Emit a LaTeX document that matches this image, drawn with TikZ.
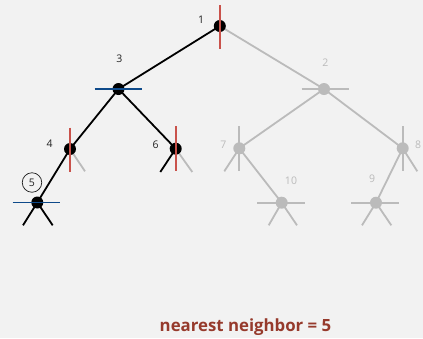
\documentclass[tikz,border=0pt]{standalone}
\usepackage{fontspec}
\setmainfont{Open Sans}
\definecolor{bgc}{HTML}{F2F2F2}
\definecolor{greyc}{HTML}{BBBBBB}
\definecolor{redc}{HTML}{C9524B}
\definecolor{bluec}{HTML}{0E4A8A}
\definecolor{txtred}{HTML}{963A2C}
\definecolor{lblc}{HTML}{222222}
\begin{document}
\begin{tikzpicture}[x=1pt,y=-1pt,
  bg/.style={fill=bgc},
  edgeb/.style={draw=black,line width=1.8pt},
  edgeg/.style={draw=greyc,line width=1.8pt},
  dotb/.style={circle,fill=black,inner sep=0pt,minimum size=12pt},
  dotg/.style={circle,fill=greyc,inner sep=0pt,minimum size=12pt},
  splitr/.style={draw=redc,line width=1.8pt},
  splitb/.style={draw=bluec,line width=1.8pt},
  splitg/.style={draw=greyc,line width=1.8pt},
  lbl/.style={font=\fontsize{10.5}{12}\selectfont,inner sep=0pt,text=lblc},
  lblg/.style={lbl,text=greyc},
]
\useasboundingbox[bg] (0,0) rectangle (423,338);

% coordinates
\coordinate (n1) at (219.8,26);
\coordinate (n2) at (324,89);
\coordinate (n3) at (118.5,89);
\coordinate (n4) at (70,149);
\coordinate (n5) at (37.3,202.5);
\coordinate (n6) at (175.7,148.7);
\coordinate (n7) at (239.3,148.3);
\coordinate (n8) at (402.7,148.3);
\coordinate (n9) at (376,202.7);
\coordinate (n10) at (281.7,202.7);

% stub ends
\coordinate (s4r) at (85,171.3);
\coordinate (s6l) at (160.3,172);
\coordinate (s6r) at (192.3,172);
\coordinate (s5l) at (23,225.3);
\coordinate (s5r) at (52.7,225.3);
\coordinate (s7l) at (224.3,171.3);
\coordinate (s8r) at (417.3,171.3);
\coordinate (s10l) at (268.7,225.3);
\coordinate (s10r) at (297,225.3);
\coordinate (s9l) at (362,225.3);
\coordinate (s9r) at (391.3,225.3);

% split line ends for node 1
\coordinate (a1) at (219.8,5);
\coordinate (b1) at (219.8,49);

% grey parts
\draw[edgeg] (n1) -- (n2);
\draw[edgeg] (n2) -- (n7);
\draw[edgeg] (n2) -- (n8);
\draw[edgeg] (n7) -- (n10);
\draw[edgeg] (n8) -- (n9);
\draw[edgeg] (n7) -- (s7l);
\draw[edgeg] (n8) -- (s8r);
\draw[edgeg] (n10) -- (s10l);
\draw[edgeg] (n10) -- (s10r);
\draw[edgeg] (n9) -- (s9l);
\draw[edgeg] (n9) -- (s9r);
\draw[edgeg] (n4) -- (s4r);
\draw[edgeg] (n6) -- (s6r);
\draw[splitg] (n2) ++(-22.5,0) coordinate (a2) -- ++(47,0) coordinate (b2);
\draw[splitg] (n7) ++(0,-22.3) coordinate (a7) -- ++(0,44.6) coordinate (b7);
\draw[splitg] (n8) ++(0,-22.3) coordinate (a8) -- ++(0,44.6) coordinate (b8);
\draw[splitg] (n10) ++(-24.4,0) coordinate (a10) -- ++(48,0) coordinate (b10);
\draw[splitg] (n9) ++(-24.7,0) coordinate (a9) -- ++(48,0) coordinate (b9);

% black parts
\draw[edgeb] (n1) -- (n3);
\draw[edgeb] (n3) -- (n4);
\draw[edgeb] (n3) -- (n6);
\draw[edgeb] (n4) -- (n5);
\draw[edgeb] (n6) -- (s6l);
\draw[edgeb] (n5) -- (s5l);
\draw[edgeb] (n5) -- (s5r);

% dots
\node[dotg] (d2) at (n2) {};
\node[dotg] (d7) at (n7) {};
\node[dotg] (d8) at (n8) {};
\node[dotg] (d10) at (n10) {};
\node[dotg] (d9) at (n9) {};
\node[dotb] (d1) at (n1) {};
\node[dotb] (d3) at (n3) {};
\node[dotb] (d4) at (n4) {};
\node[dotb] (d5) at (n5) {};
\node[dotb] (d6) at (n6) {};

% splitting lines
\draw[splitr] (a1) -- (b1);
\draw[splitb] (n3) ++(-24,0) coordinate (a3) -- ++(47.5,0) coordinate (b3);
\draw[splitr] (n4) ++(0,-21.5) coordinate (a4) -- ++(0,44.5) coordinate (b4);
\draw[splitr] (n6) ++(0,-22.5) coordinate (a6) -- ++(0,44.3) coordinate (b6);
\draw[splitb] (n5) ++(-24.6,0) coordinate (a5) -- ++(47.6,0) coordinate (b5);

% labels
\node[lbl] (l1) at (201,19.5) {1};
\node[lblg] (l2) at (325.3,62.7) {2};
\node[lbl] (l3) at (119.3,59) {3};
\node[lbl] (l4) at (49.7,143.5) {4};
\node[lbl,circle,draw=lblc,line width=0.7pt,minimum size=19.5pt] (l5) at (32,182.5) {5};
\node[lbl] (l6) at (155.7,145) {6};
\node[lblg] (l7) at (223.3,144.7) {7};
\node[lblg] (l8) at (418,145) {8};
\node[lblg] (l10) at (291,181) {10};
\node[lblg] (l9) at (372,178.7) {9};

\node[font=\bfseries\fontsize{16.8}{19}\selectfont,text=txtred,inner sep=0pt] (res) at (245.5,327) {nearest neighbor = 5};
\end{tikzpicture}
\end{document}
